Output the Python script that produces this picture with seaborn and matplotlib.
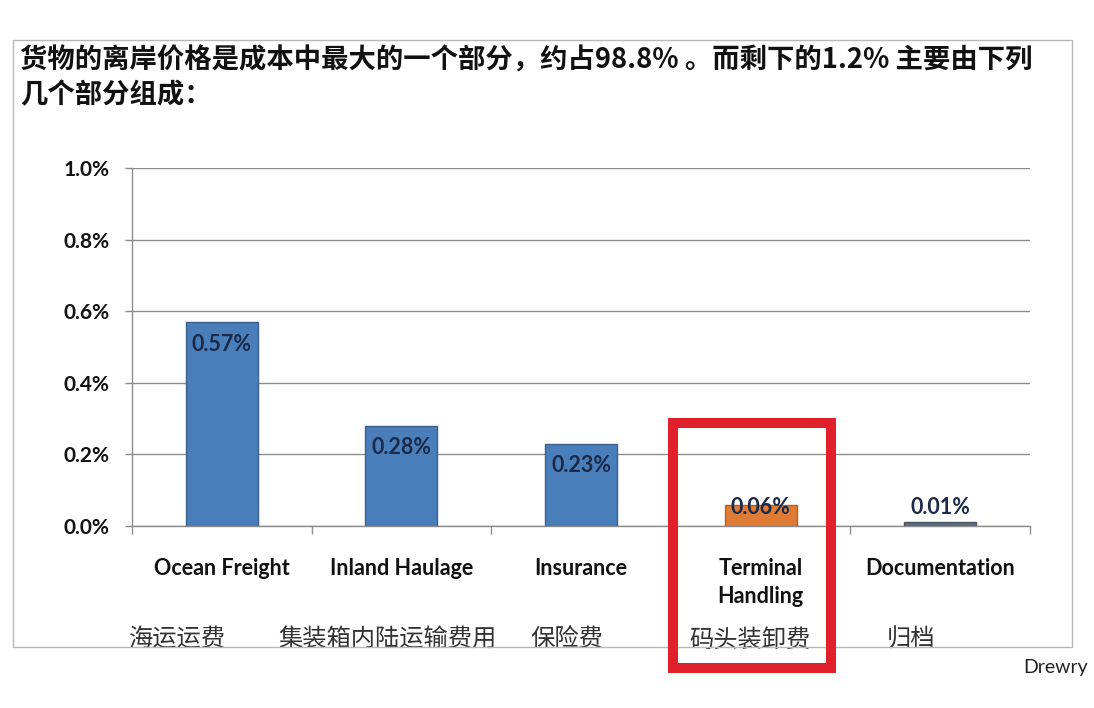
import matplotlib
matplotlib.use("Agg")
import matplotlib.pyplot as plt
import matplotlib.patches as mpatches
from matplotlib.transforms import blended_transform_factory
from matplotlib.ticker import FixedLocator, FuncFormatter
import seaborn as sns


OUTPUT_PATH = "out.png"

TITLE = "货物的离岸价格是成本中最大的一个部分，约占98.8% 。而剩下的1.2% 主要由下列\n几个部分组成："
CATEGORIES = ["Ocean Freight", "Inland Haulage", "Insurance", "Terminal\nHandling", "Documentation"]
CN_LABELS = ["海运运费", "集装箱内陆运输费用", "保险费", "码头装卸费", "归档"]
SHARES = [0.57, 0.28, 0.23, 0.06, 0.01]
Y_TICKS = [0.0, 0.2, 0.4, 0.6, 0.8, 1.0]
BAR_COLORS = ["#4a7ebb", "#4a7ebb", "#4a7ebb", "#de7b34", "#5c6d7c"]
EDGE_COLORS = ["#3d5f8c", "#3d5f8c", "#3d5f8c", "#b8621f", "#4a5866"]
SOURCE = "Drewry"

# where the chinese captions sit (x in category units)
CN_X = [-0.25, 0.925, 1.92, 2.94, 3.84]


def main():
    sns.set_theme(style="white")
    plt.rcParams["font.family"] = ["Lato", "Noto Sans CJK SC", "DejaVu Sans"]

    fig = plt.figure(figsize=(10.94, 7.08), dpi=100)
    fig.patch.set_facecolor("white")
    ax = fig.add_axes([132 / 1094, 1 - 526 / 708, 898 / 1094, 358 / 708])

    sns.barplot(
        x=CATEGORIES,
        y=SHARES,
        hue=CATEGORIES,
        palette=BAR_COLORS,
        width=0.4,
        legend=False,
        saturation=1,
        linewidth=1,
        ax=ax,
    )
    for patch, col in zip(ax.patches, EDGE_COLORS):
        patch.set_edgecolor(col)

    ax.set_xlim(-0.5, len(CATEGORIES) - 0.5)
    ax.set_ylim(0, 1.0)
    ax.yaxis.set_major_locator(FixedLocator(Y_TICKS))
    ax.yaxis.set_major_formatter(FuncFormatter(lambda v, _: f"{v:.1f}%"))
    ax.grid(axis="y", color="#8c8c8c", linewidth=1)
    ax.set_axisbelow(True)

    for side in ["top", "right"]:
        ax.spines[side].set_visible(False)
    for side in ["left", "bottom"]:
        ax.spines[side].set_color("#8c8c8c")
        ax.spines[side].set_linewidth(1)

    ax.tick_params(axis="y", left=True, length=5, width=1, color="#8c8c8c",
                   pad=11, labelsize=15, labelcolor="#111111")
    for lbl in ax.get_yticklabels():
        lbl.set_fontweight("bold")

    ax.set_xticks(range(len(CATEGORIES)))
    ax.set_xticklabels(CATEGORIES, fontsize=15.5, fontweight="bold",
                       color="#111111", linespacing=1.4)
    ax.tick_params(axis="x", which="major", length=0, pad=23)
    ax.set_xticks([i - 0.5 for i in range(len(CATEGORIES) + 1)], minor=True)
    ax.tick_params(axis="x", which="minor", bottom=True, length=6,
                   color="#8c8c8c", direction="out")
    ax.set_xlabel("")
    ax.set_ylabel("")

    # value labels near the top of each bar
    for i, v in enumerate(SHARES):
        ax.text(i, max(v - 0.062, 0.053), f"{v:.2f}%", ha="center", va="center",
                fontsize=15.5, fontweight="bold", color="#1b2a48")

    # chinese captions under the english names
    cn_trans = blended_transform_factory(ax.transData, fig.transFigure)
    for x, txt in zip(CN_X, CN_LABELS):
        ax.text(x, 1 - 640 / 708, txt, transform=cn_trans, ha="center", va="center",
                fontsize=17.5, color="#333333", family=["Noto Sans CJK SC"],
                clip_on=False)

    fig.text(20 / 1094, 1 - 47 / 708, TITLE, ha="left", va="top", fontsize=19.7,
             fontweight="bold", color="#111111", linespacing=1.3,
             family=["Noto Sans CJK SC", "DejaVu Sans"])

    fig.text(1088 / 1094, 1 - 668 / 708, SOURCE, ha="right", va="center",
             fontsize=14, color="#222222")

    # outer frame of the slide
    fig.add_artist(mpatches.Rectangle(
        (13 / 1094, 1 - 647 / 708), 1059 / 1094, 607 / 708,
        transform=fig.transFigure, fill=False, edgecolor="#b8b8b8", linewidth=1))

    # highlight box around terminal handling
    fig.add_artist(mpatches.Rectangle(
        (673 / 1094, 1 - 668 / 708), 158 / 1094, 245 / 708,
        transform=fig.transFigure, fill=False, edgecolor="#e0202a", linewidth=7.2))

    fig.savefig(OUTPUT_PATH, dpi=100, facecolor="white")
    plt.close(fig)


if __name__ == "__main__":
    main()
